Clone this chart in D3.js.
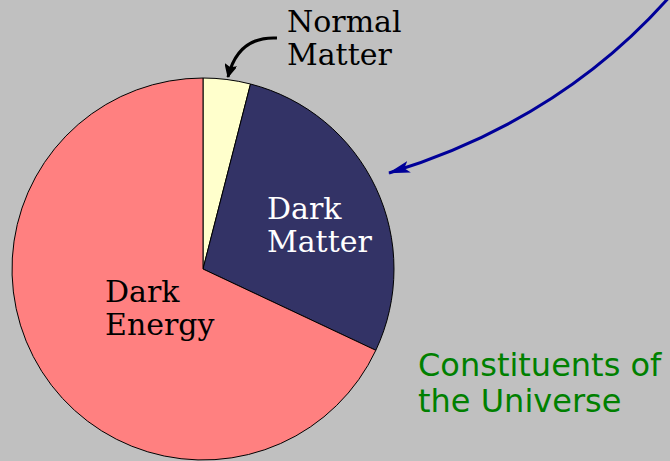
<!DOCTYPE html>
<html>
<head>
<meta charset="utf-8">
<script src="https://cdn.jsdelivr.net/npm/d3@7"></script>
<style>
  html, body { margin: 0; padding: 0; background: #c0c0c0; }
  svg { display: block; }
  .serif { font-family: "DejaVu Serif", serif; font-size: 30px; }
  .title { font-family: "DejaVu Sans", sans-serif; font-size: 32px; fill: #008000; }
</style>
</head>
<body>
<div id="chart"></div>
<script>
  // pie data (percent of total)
  const categories = ["Normal Matter", "Dark Matter", "Dark Energy"],
    shares = [4, 28, 68],
    colors = ["#ffffcc", "#333366", "#ff8080"],
    labelLines = [["Normal", "Matter"], ["Dark", "Matter"], ["Dark", "Energy"]],
    titleLines = ["Constituents of", "the Universe"];

  const width = 670, height = 461,
    cx = 203, cy = 269, radius = 191;

  const svg = d3.select("#chart").append("svg")
      .attr("width", width)
      .attr("height", height);

  svg.append("rect")
      .attr("width", width)
      .attr("height", height)
      .attr("fill", "#c0c0c0");

  const defs = svg.append("defs");
  //arrow heads
  defs.append("marker")
      .attr("id", "headBlack")
      .attr("viewBox", "0 -6 14 12")
      .attr("refX", 13).attr("refY", 0)
      .attr("markerWidth", 14).attr("markerHeight", 12)
      .attr("markerUnits", "userSpaceOnUse")
      .attr("orient", "auto")
      .append("path")
        .attr("d", "M0,-7L14,0L0,7L3,0Z")
        .attr("fill", "#000");

  defs.append("marker")
      .attr("id", "headBlue")
      .attr("viewBox", "0 -6 22 12")
      .attr("refX", 21).attr("refY", 0)
      .attr("markerWidth", 22).attr("markerHeight", 12)
      .attr("markerUnits", "userSpaceOnUse")
      .attr("orient", "auto")
      .append("path")
        .attr("d", "M0,-6L22,0L0,6L5,0Z")
        .attr("fill", "#000099");

  const data = categories.map((c, i) => ({name: c, value: shares[i], color: colors[i], lines: labelLines[i]}));

  const pie = d3.pie()
      .sort(null)
      .value(d => d.value);

  const arc = d3.arc()
      .innerRadius(0)
      .outerRadius(radius);

  const g = svg.append("g")
      .attr("transform", "translate(" + cx + "," + cy + ")");

  g.selectAll(".slice")
    .data(pie(data))
    .enter().append("path")
      .attr("class", "slice")
      .attr("d", arc)
      .attr("fill", d => d.data.color)
      .attr("stroke", "#000")
      .attr("stroke-width", 1);

  //label anchors (left x, first baseline) relative to the pie centre
  const labelPos = [[84, -237], [64, -50], [-98, 33]],
    labelFill = ["#000", "#ffffff", "#000"],
    lineGap = 33;

  const labels = g.selectAll(".label")
    .data(data)
    .enter().append("text")
      .attr("class", "label serif")
      .attr("fill", (d, i) => labelFill[i])
      .attr("x", (d, i) => labelPos[i][0])
      .attr("y", (d, i) => labelPos[i][1]);

  labels.selectAll("tspan")
    .data((d, i) => d.lines.map(l => ({text: l, i: i})))
    .enter().append("tspan")
      .attr("x", d => labelPos[d.i][0])
      .attr("dy", (d, j) => j === 0 ? 0 : lineGap)
      .text(d => d.text);

  //arrow pointing at the thin normal matter slice
  svg.append("path")
      .attr("d", "M277,38 Q238,36 228,77")
      .attr("fill", "none")
      .attr("stroke", "#000")
      .attr("stroke-width", 3)
      .attr("marker-end", "url(#headBlack)");

  //long blue arrow coming in from the top right
  svg.append("path")
      .attr("d", "M672,-6 Q562,120 389,173")
      .attr("fill", "none")
      .attr("stroke", "#000099")
      .attr("stroke-width", 3)
      .attr("marker-end", "url(#headBlue)");

  //title
  svg.append("text")
      .attr("class", "title")
      .selectAll("tspan")
      .data(titleLines)
      .enter().append("tspan")
        .attr("x", 418)
        .attr("y", (d, i) => 376 + i * 36)
        .text(d => d);
</script>
</body>
</html>
